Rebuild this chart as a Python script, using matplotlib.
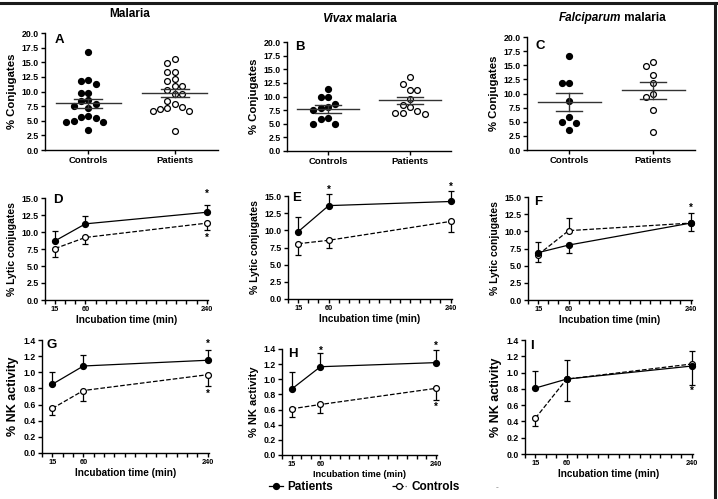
import numpy as np
import matplotlib
matplotlib.use("Agg")
import matplotlib.pyplot as plt
from matplotlib.lines import Line2D

plt.rcParams['font.family'] = ['Liberation Sans', 'DejaVu Sans']
plt.rcParams['font.weight'] = 'bold'
plt.rcParams['axes.labelweight'] = 'bold'

# ---------------- data ----------------
categories = ["Controls", "Patients"]

# Panel A (Malaria)
A_controls = [16.7, 11.8, 11.3, 11.9, 9.7, 9.8, 8.6, 8.4, 7.9, 7.2, 7.5, 5.8, 5.5, 5.6, 4.8, 4.8, 4.9, 3.5]
A_patients = [15.5, 14.8, 13.4, 13.4, 11.8, 12.2, 11.0, 11.0, 10.2, 9.5, 9.5, 8.4, 7.8, 7.1, 6.7, 6.7, 7.0, 7.3, 3.3]
A_means = [7.95, 9.75]
A_sems = [0.75, 0.75]

# Panel B (Vivax)
B_controls = [11.4, 8.7, 9.9, 9.9, 8.1, 7.5, 7.9, 5.8, 6.0, 4.9, 4.9]
B_patients = [13.5, 12.35, 11.25, 11.25, 9.5, 8.0, 8.5, 7.0, 6.85, 7.0, 7.3]
B_means = [7.7, 9.3]
B_sems = [0.7, 0.7]

# Panel C (Falciparum)
C_controls = [16.6, 11.8, 11.8, 8.7, 5.0, 4.8, 5.8, 3.5]
C_patients = [15.5, 14.8, 13.2, 11.8, 9.4, 10.0, 7.1, 3.2]
C_means = [8.5, 10.6]
C_sems = [1.65, 1.5]

times = [15, 60, 240]

# Lytic conjugates (D, E, F): mean, lower err, upper err
D_pat = [8.7, 11.2, 12.9];  D_pat_lo = [0, 0, 0];      D_pat_hi = [1.5, 1.2, 1.1]
D_ctl = [7.57, 9.2, 11.3];  D_ctl_lo = [1.2, 1.0, 1.05]; D_ctl_hi = [0, 0, 0]
E_pat = [9.8, 13.6, 14.2];  E_pat_lo = [0, 0, 0];      E_pat_hi = [2.2, 1.7, 1.6]
E_ctl = [8.05, 8.55, 11.3]; E_ctl_lo = [1.65, 1.15, 1.5]; E_ctl_hi = [0, 0, 0]
F_pat = [6.9, 8.0, 11.2];   F_pat_lo = [0, 1.1, 0];    F_pat_hi = [1.5, 0, 1.5]
F_ctl = [6.6, 10.1, 11.2];  F_ctl_lo = [1.0, 0, 1.2];  F_ctl_hi = [0, 1.9, 0]

# NK activity (G, H, I)
G_pat = [0.852, 1.078, 1.149]; G_pat_lo = [0, 0, 0];        G_pat_hi = [0.15, 0.13, 0.13]
G_ctl = [0.552, 0.774, 0.97];  G_ctl_lo = [0.087, 0.128, 0.14]; G_ctl_hi = [0, 0, 0]
H_pat = [0.87, 1.166, 1.22];   H_pat_lo = [0, 0, 0];        H_pat_hi = [0.22, 0.175, 0.17]
H_ctl = [0.61, 0.667, 0.88];   H_ctl_lo = [0.11, 0.117, 0.16]; H_ctl_hi = [0, 0, 0]
I_pat = [0.81, 0.92, 1.08];    I_pat_lo = [0, 0, 0.23];     I_pat_hi = [0.21, 0.23, 0]
I_ctl = [0.44, 0.92, 1.105];   I_ctl_lo = [0.09, 0.27, 0];  I_ctl_hi = [0, 0, 0.155]

# significance stars (x, y)
D_stars = [(240, 15.6), (240, 9.1)]
E_stars = [(60, 15.9), (240, 16.4)]
F_stars = [(240, 13.4)]
G_stars = [(240, 1.35), (240, 0.73)]
H_stars = [(60, 1.38), (240, 1.44), (240, 0.63)]
I_stars = [(240, 0.77)]

# ---------------- figure ----------------
W, H = 718, 499
fig = plt.figure(figsize=(W / 100, H / 100), dpi=100)


def add_ax(left, right, top, bottom):
    return fig.add_axes([left / W, 1 - bottom / H, (right - left) / W, (bottom - top) / H])


def style(ax):
    for s in ['top', 'right']:
        ax.spines[s].set_visible(False)
    for s in ['left', 'bottom']:
        ax.spines[s].set_linewidth(1.0)
    ax.tick_params(direction='out', length=3, width=1.0, pad=1.5)


def swarm_x(ax, xc, vals, d=7.3):
    vals = np.asarray(vals, float)
    disp = ax.transData.transform(np.column_stack([np.full(len(vals), xc), vals]))
    ys = disp[:, 1]
    x0 = disp[0, 0]
    placed = []
    xs = np.zeros(len(vals))
    order = np.argsort(-vals)
    cands = [0]
    for k in range(1, 8):
        cands += [-k, k]
    for i in order:
        for k in cands:
            px = x0 + k * d
            ok = all((px - qx) ** 2 + (ys[i] - qy) ** 2 >= (d * 0.95) ** 2 for qx, qy in placed)
            if ok:
                placed.append((px, ys[i]))
                xs[i] = px
                break
    inv = ax.transData.inverted()
    return inv.transform(np.column_stack([xs, ys]))[:, 0]


def scatter_panel(ax, ctl, pat, means, sems, letter, lpos):
    style(ax)
    ax.set_xlim(0.5, 2.5)
    ax.set_ylim(0, 20)
    yt = np.arange(0, 20.01, 2.5)
    ax.set_yticks(yt)
    ax.set_yticklabels([f"{v:.1f}" for v in yt], fontsize=6.3, fontweight='bold')
    ax.set_xticks([1, 2])
    ax.set_xticklabels(categories, fontsize=6.8, fontweight='bold')
    ax.set_ylabel("% Conjugates", fontsize=8.2, labelpad=3)
    xs = swarm_x(ax, 1, ctl)
    ax.plot(xs, ctl, 'o', ms=4.2, mfc='black', mec='black', ls='none', clip_on=False)
    xs = swarm_x(ax, 2, pat)
    ax.plot(xs, pat, 'o', ms=4.2, mfc='white', mec='black', mew=0.9, ls='none', clip_on=False)
    for i, (m, s) in enumerate(zip(means, sems)):
        x = i + 1
        ax.plot([x - 0.375, x + 0.375], [m, m], color='#333333', lw=1.0)
        ax.plot([x, x], [m - s, m + s], color='#333333', lw=1.0)
        ax.plot([x - 0.16, x + 0.16], [m - s, m - s], color='#333333', lw=1.0)
        ax.plot([x - 0.16, x + 0.16], [m + s, m + s], color='#333333', lw=1.0)
    ax.text(lpos[0], lpos[1], letter, transform=ax.transAxes, fontsize=9.5,
            ha='left', va='center', fontweight='bold')


def line_panel(ax, pat, plo, phi, ctl, clo, chi, stars, ylim, yticks, ylabel, letter, lpos,
               xlabel_fs=7.2, ylabel_fs=7.5):
    style(ax)
    ax.set_xlim(0, 242)
    ax.set_ylim(*ylim)
    xt = np.arange(0, 241, 15)
    ax.set_xticks(xt)
    ax.set_xticklabels([str(t) if t in times else "" for t in xt], fontsize=5.3, fontweight='bold')
    ax.set_yticks(yticks)
    ax.set_yticklabels([f"{v:.1f}" for v in yticks], fontsize=6.3, fontweight='bold')
    ax.set_ylabel(ylabel, fontsize=ylabel_fs, labelpad=3)
    ax.set_xlabel("Incubation time (min)", fontsize=xlabel_fs, labelpad=1)
    ax.errorbar(times, ctl, yerr=[clo, chi], fmt='o', ls='--', color='black', lw=0.9,
                ms=4.2, mfc='white', mec='black', mew=0.9, capsize=2.2, elinewidth=0.9,
                capthick=0.9, clip_on=False, zorder=3)
    ax.errorbar(times, pat, yerr=[plo, phi], fmt='o', ls='-', color='black', lw=0.9,
                ms=4.2, mfc='black', mec='black', capsize=2.2, elinewidth=0.9,
                capthick=0.9, clip_on=False, zorder=4)
    for (sx, sy) in stars:
        ax.text(sx, sy, "*", ha='center', va='center', fontsize=7, clip_on=False)
    ax.text(lpos[0], lpos[1], letter, transform=ax.transAxes, fontsize=9.5,
            ha='left', va='center', fontweight='bold')


# top row
axA = add_ax(45, 218, 33, 150)
axB = add_ax(287, 451, 42, 151)
axC = add_ax(527, 695, 37, 150)
scatter_panel(axA, A_controls, A_patients, A_means, A_sems, "A", (0.058, 0.94))
scatter_panel(axB, B_controls, B_patients, B_means, B_sems, "B", (0.05, 0.954))
scatter_panel(axC, C_controls, C_patients, C_means, C_sems, "C", (0.05, 0.92))

lyt_ticks = np.arange(0, 15.01, 2.5)
axD = add_ax(45, 208, 198, 300)
axE = add_ax(288, 452, 196, 299)
axF = add_ax(528, 692, 197, 300)
line_panel(axD, D_pat, D_pat_lo, D_pat_hi, D_ctl, D_ctl_lo, D_ctl_hi, D_stars, (0, 15),
           lyt_ticks, "% Lytic conjugates", "D", (0.05, 0.98))
line_panel(axE, E_pat, E_pat_lo, E_pat_hi, E_ctl, E_ctl_lo, E_ctl_hi, E_stars, (0, 15),
           lyt_ticks, "% Lytic conjugates", "E", (0.025, 0.98))
line_panel(axF, F_pat, F_pat_lo, F_pat_hi, F_ctl, F_ctl_lo, F_ctl_hi, F_stars, (0, 15),
           lyt_ticks, "% Lytic conjugates", "F", (0.04, 0.95))

nk_ticks = np.arange(0, 1.41, 0.2)
axG = add_ax(42, 209, 340, 453)
axH = add_ax(282, 437, 349, 455)
axI = add_ax(525, 693, 340, 454)
line_panel(axG, G_pat, G_pat_lo, G_pat_hi, G_ctl, G_ctl_lo, G_ctl_hi, G_stars, (0, 1.4),
           nk_ticks, "% NK activity", "G", (0.025, 0.956), ylabel_fs=9.0)
line_panel(axH, H_pat, H_pat_lo, H_pat_hi, H_ctl, H_ctl_lo, H_ctl_hi, H_stars, (0, 1.4),
           nk_ticks, "% NK activity", "H", (0.04, 0.953), xlabel_fs=6.6, ylabel_fs=8.0)
line_panel(axI, I_pat, I_pat_lo, I_pat_hi, I_ctl, I_ctl_lo, I_ctl_hi, I_stars, (0, 1.4),
           nk_ticks, "% NK activity", "I", (0.03, 0.947), ylabel_fs=9.0)

# column titles
fig.text(130 / W, 1 - 14 / H, "Malaria", ha='center', va='center', fontsize=8.5, fontweight='bold')
fig.text(352 / W, 1 - 19 / H, "Vivax", ha='right', va='center', fontsize=8.5, style='italic', fontweight='bold')
fig.text(352 / W, 1 - 19 / H, " malaria", ha='left', va='center', fontsize=8.5, fontweight='bold')
fig.text(621 / W, 1 - 18 / H, "Falciparum", ha='right', va='center', fontsize=8.5, style='italic', fontweight='bold')
fig.text(621 / W, 1 - 18 / H, " malaria", ha='left', va='center', fontsize=8.5, fontweight='bold')

# legend
handles = [Line2D([], [], color='black', ls='-', lw=0.9, marker='o', ms=4.2, mfc='black', mec='black'),
           Line2D([], [], color='black', ls='--', lw=0.9, marker='o', ms=4.2, mfc='white', mec='black', mew=0.9)]
fig.legend(handles, ["Patients", "Controls"], loc='center', bbox_to_anchor=(364 / W, 1 - 487 / H),
           ncol=2, frameon=False, prop={'size': 8.5, 'weight': 'bold'}, handlelength=1.2,
           handletextpad=0.4, columnspacing=5.0)
fig.text(497 / W, 1 - 488 / H, "-", ha='center', va='center', fontsize=6, color='#999999')

# frame
fig.add_artist(Line2D([0, 716 / W], [1 - 2.5 / H, 1 - 2.5 / H], transform=fig.transFigure,
                      color='#1a1a1a', lw=2.2))
fig.add_artist(Line2D([714.5 / W, 714.5 / W], [0, 1 - 2.5 / H], transform=fig.transFigure,
                      color='#1a1a1a', lw=2.2))

fig.savefig("out.png", dpi=100)
